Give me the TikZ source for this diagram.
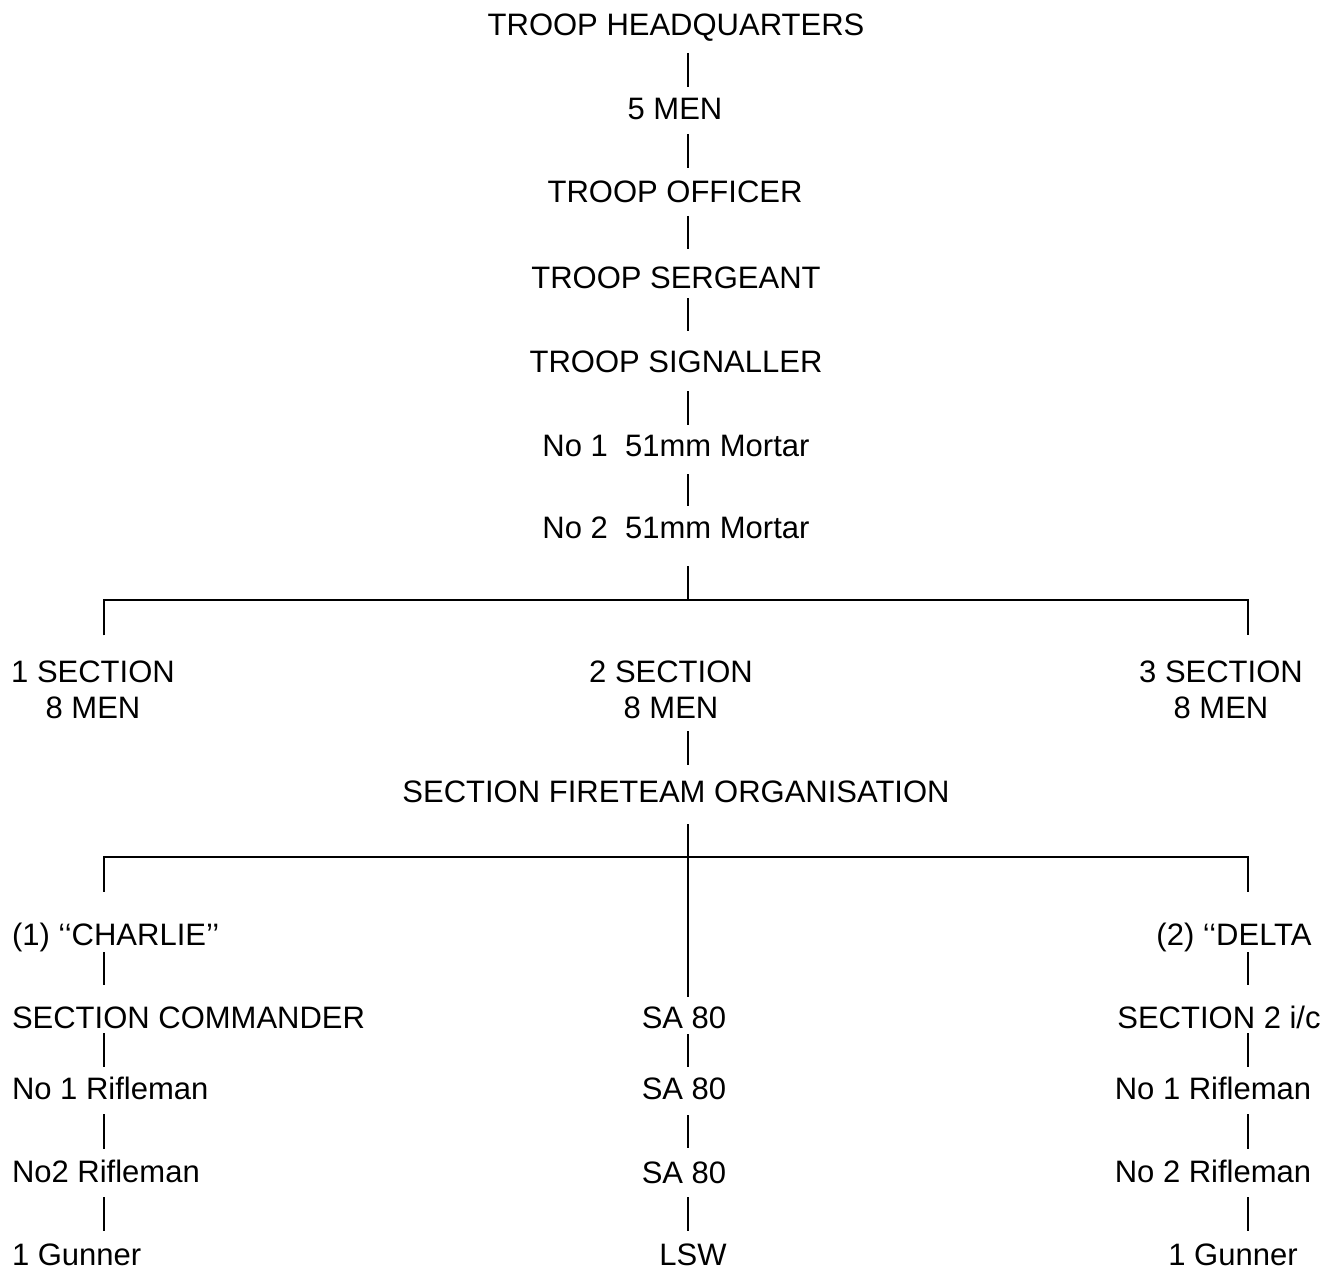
\documentclass[tikz,border=0pt]{standalone}
\usepackage{fontspec}
\setmainfont{Liberation Sans}
\tikzset{
  rank/.style={inner sep=0pt, text height=11.1pt, text depth=0pt, anchor=base},
  lrank/.style={rank, anchor=base west},
  sect/.style={inner sep=0pt, align=center, anchor=base},
  gaps/.style 2 args={shorten <=#1pt, shorten >=#2pt},
}

\begin{document}
\begin{tikzpicture}[x=0.5pt,y=-0.5pt,line width=1pt,
  font=\fontsize{15.5pt}{18pt}\selectfont]
\useasboundingbox (0,0) rectangle (1324,1268);

% Columns and bars
\coordinate (midx) at (688,0);
\coordinate (leftx) at (104,0);
\coordinate (rightx) at (1248,0);
\coordinate (bar1) at (688,600);
\coordinate (bar2) at (688,857);

% Troop headquarters
\node[rank] (hq) at (676,36) {TROOP HEADQUARTERS};
\node[rank] (men5) at (675,120) {5 MEN};
\node[rank] (officer) at (675,203) {TROOP OFFICER};
\node[rank] (sergeant) at (676,288) {TROOP SERGEANT};
\node[rank] (signaller) at (676,372) {TROOP SIGNALLER};
\node[rank] (mortar1) at (676,456) {No 1\ \ 51mm Mortar};
\node[rank] (mortar2) at (676,538) {No 2\ \ 51mm Mortar};

% Sections (base is the last line)
\node[sect] (sec1) at (93,718) {1 SECTION\\8 MEN};
\node[sect] (sec2) at (671,718) {2 SECTION\\8 MEN};
\node[sect] (sec3) at (1221,718) {3 SECTION\\8 MEN};
\node[rank] (fireteam) at (676,802) {SECTION FIRETEAM ORGANISATION};

% Charlie fireteam
\node[lrank] (charlie) at (11,945) {(1) ‘‘CHARLIE’’};
\node[lrank] (cmdr) at (11,1028) {SECTION COMMANDER};
\node[lrank] (rifle1) at (11,1099) {No 1 Rifleman};
\node[lrank] (rifle2) at (11,1182) {No2 Rifleman};
\node[lrank] (gunner1) at (11,1265) {1 Gunner};

% Weapons
\node[rank] (sa1) at (684,1028) {SA 80};
\node[rank] (sa2) at (684,1099) {SA 80};
\node[rank] (sa3) at (684,1183) {SA 80};
\node[rank] (lsw) at (693,1265) {LSW};

% Delta fireteam
\node[rank] (delta) at (1234,945) {(2) ‘‘DELTA};
\node[rank] (ic) at (1219,1028) {SECTION 2 i/c};
\node[rank] (rifle3) at (1213,1099) {No 1 Rifleman};
\node[rank] (rifle4) at (1213,1182) {No 2 Rifleman};
\node[rank] (gunner2) at (1233,1265) {1 Gunner};

\draw[gaps={8}{5}] (hq.south -| midx) -- (men5.north -| midx);
\draw[gaps={6.5}{6}] (men5.south -| midx) -- (officer.north -| midx);
\draw[gaps={6}{8}] (officer.south -| midx) -- (sergeant.north -| midx);
\draw[gaps={4.5}{9}] (sergeant.south -| midx) -- (signaller.north -| midx);
\draw[gaps={9}{4}] (signaller.south -| midx) -- (mortar1.north -| midx);
\draw[gaps={8.5}{4.5}] (mortar1.south -| midx) -- (mortar2.north -| midx);
\draw[gaps={13.5}{0}] (mortar2.south -| midx) -- (bar1);
\draw[gaps={12}{12}] (sec1.north -| leftx) |- (bar1) -| (sec3.north -| rightx);

\draw[gaps={6.5}{7}] (sec2.base -| midx) -- (fireteam.north -| midx);
\draw[gaps={10.5}{4}] (fireteam.south -| midx) -- (sa1.north -| midx);
\draw[gaps={15}{15}] (charlie.north -| leftx) |- (bar2) -| (delta.north -| rightx);

\draw[gaps={3}{10}] (charlie.south -| leftx) -- (cmdr.north -| leftx);
\draw[gaps={2}{4.5}] (cmdr.south -| leftx) -- (rifle1.north -| leftx);
\draw[gaps={7}{5}] (rifle1.south -| leftx) -- (rifle2.north -| leftx);
\draw[gaps={7}{5.5}] (rifle2.south -| leftx) -- (gunner1.north -| leftx);

\draw[gaps={2.5}{4.5}] (sa1.south -| midx) -- (sa2.north -| midx);
\draw[gaps={7.5}{6}] (sa2.south -| midx) -- (sa3.north -| midx);
\draw[gaps={6.5}{5.5}] (sa3.south -| midx) -- (lsw.north -| midx);

\draw[gaps={3}{10}] (delta.south -| rightx) -- (ic.north -| rightx);
\draw[gaps={2}{4.5}] (ic.south -| rightx) -- (rifle3.north -| rightx);
\draw[gaps={7}{5}] (rifle3.south -| rightx) -- (rifle4.north -| rightx);
\draw[gaps={7}{5.5}] (rifle4.south -| rightx) -- (gunner2.north -| rightx);

\end{tikzpicture}
\end{document}
